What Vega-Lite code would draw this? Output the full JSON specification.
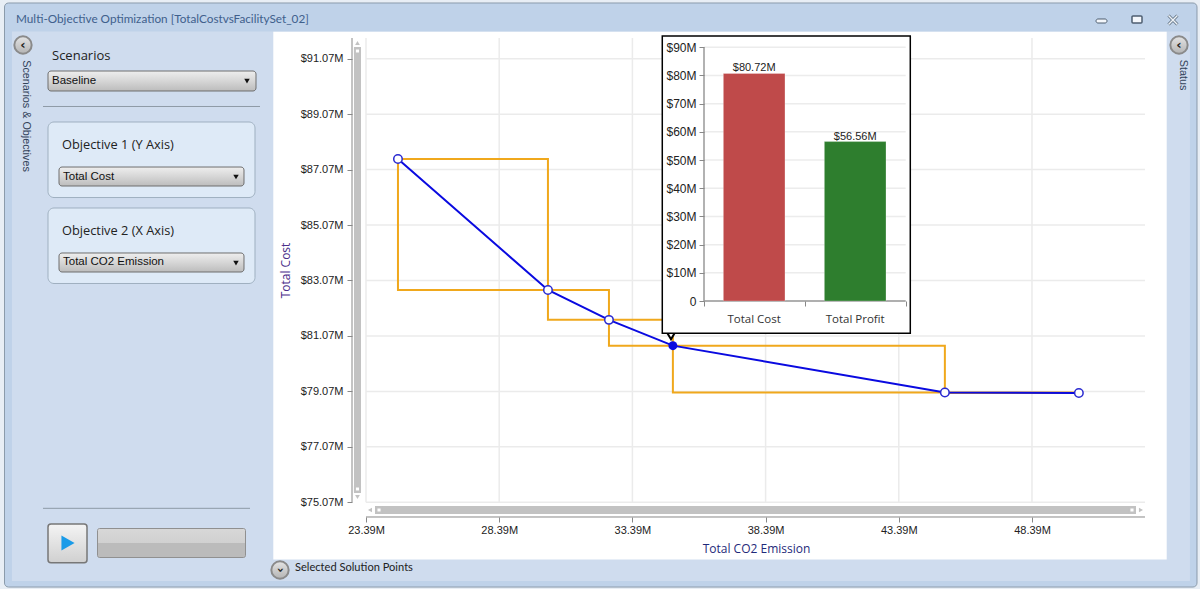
{
  "$schema": "https://vega.github.io/schema/vega-lite/v6.json",
  "width": 1200,
  "height": 589,
  "autosize": "none",
  "padding": 0,
  "background": "#e8eef5",
  "config": {
    "view": {"stroke": null},
    "axis": {"grid": false, "domain": false, "tickColor": "#888888", "labelColor": "#222222", "labelFont": "Liberation Sans", "titleFont": "Open Sans", "titleFontWeight": "normal"}
  },
  "datasets": {
    "one": [{}],
    "points": [
      {"co2": 24.59, "cost": 87.45},
      {"co2": 30.22, "cost": 82.73},
      {"co2": 32.51, "cost": 81.65},
      {"co2": 45.12, "cost": 79.03},
      {"co2": 50.15, "cost": 79.01}
    ],
    "line": [
      {"co2": 24.59, "cost": 87.45},
      {"co2": 30.22, "cost": 82.73},
      {"co2": 32.51, "cost": 81.65},
      {"co2": 34.91, "cost": 80.72},
      {"co2": 45.12, "cost": 79.03},
      {"co2": 50.15, "cost": 79.01}
    ],
    "selected": [{"co2": 34.91, "cost": 80.72}],
    "steps": [
      {"co2A": 24.59, "co2B": 30.22, "costA": 87.45, "costB": 82.73},
      {"co2A": 30.22, "co2B": 32.51, "costA": 82.73, "costB": 81.65},
      {"co2A": 32.51, "co2B": 34.91, "costA": 81.65, "costB": 80.72},
      {"co2A": 34.91, "co2B": 45.12, "costA": 80.72, "costB": 79.03},
      {"co2A": 45.12, "co2B": 50.15, "costA": 79.03, "costB": 79.01}
    ],
    "co2Ticks": [{"v": 23.39}, {"v": 28.39}, {"v": 33.39}, {"v": 38.39}, {"v": 43.39}, {"v": 48.39}],
    "costTicks": [{"v": 75.07}, {"v": 77.07}, {"v": 79.07}, {"v": 81.07}, {"v": 83.07}, {"v": 85.07}, {"v": 87.07}, {"v": 89.07}, {"v": 91.07}],
    "insetTicks": [{"v": 0}, {"v": 10}, {"v": 20}, {"v": 30}, {"v": 40}, {"v": 50}, {"v": 60}, {"v": 70}, {"v": 80}, {"v": 90}],
    "bars": [
      {"metric": "Total Cost", "value": 80.72, "label": "$80.72M"},
      {"metric": "Total Profit", "value": 56.56, "label": "$56.56M"}
    ]
  },
  "data": {"name": "one"},
  "resolve": {"scale": {"x": "independent", "y": "independent", "color": "independent"}},
  "layer": [
    {
      "layer": [
        {"mark": {"type": "rect", "fill": "#bfd2e9", "stroke": "#8b9bab", "cornerRadius": 4},
          "encoding": {
            "x": {"datum": 9.82, "scale": {"domain": [9.651, 54.697], "nice": false, "zero": false}},
            "x2": {"datum": 54.584},
            "y": {"datum": 93.079, "scale": {"domain": [71.943, 93.187], "nice": false, "zero": false}},
            "y2": {"datum": 72.014}
          }},
        {"mark": {"type": "rect", "fill": "#cfdcee"}, "encoding": {"x": {"datum": 10.101}, "x2": {"datum": 54.321}, "y": {"datum": 92.051}, "y2": {"datum": 72.231}}},
        {"mark": {"type": "rect", "fill": "#ffffff"}, "encoding": {"x": {"datum": 19.91}, "x2": {"datum": 53.447}, "y": {"datum": 92.044}, "y2": {"datum": 73.007}}},
        {"mark": {"type": "text", "text": "Multi-Objective Optimization [TotalCostvsFacilitySet_02]", "align": "left", "font": "Lato", "fontSize": 11.75, "color": "#40608c"}, "encoding": {"x": {"datum": 10.252}, "y": {"datum": 92.484}}},
        {"mark": {"type": "rect", "fill": "#f4f7fb", "stroke": "#4e5e70", "cornerRadius": 2}, "encoding": {"x": {"datum": 50.793}, "x2": {"datum": 51.206}, "y": {"datum": 92.502}, "y2": {"datum": 92.357}}},
        {"mark": {"type": "rect", "fill": "#f4f7fb", "stroke": "#4e5e70", "strokeWidth": 1.5, "cornerRadius": 1}, "encoding": {"x": {"datum": 52.144}, "x2": {"datum": 52.52}, "y": {"datum": 92.61}, "y2": {"datum": 92.357}}},
        {"mark": {"type": "point", "shape": "M-1,-1L1,1M-1,1L1,-1", "size": 80, "filled": false, "stroke": "#5a6b7c", "strokeWidth": 3, "opacity": 1}, "encoding": {"x": {"datum": 53.682}, "y": {"datum": 92.466}}},
        {"mark": {"type": "point", "shape": "M-1,-1L1,1M-1,1L1,-1", "size": 80, "filled": false, "stroke": "#eef3f8", "strokeWidth": 1.5, "opacity": 1}, "encoding": {"x": {"datum": 53.682}, "y": {"datum": 92.466}}},

        {"mark": {"type": "point", "shape": "circle", "size": 300, "filled": true, "fill": {"x1": 0, "y1": 0, "x2": 0, "y2": 1, "gradient": "linear", "stops": [{"offset": 0, "color": "#e4e4e4"}, {"offset": 1, "color": "#b4b4b4"}]}, "stroke": "#8a8a8a", "opacity": 1}, "encoding": {"x": {"datum": 10.514}, "y": {"datum": 91.564}}},
        {"mark": {"type": "text", "text": "‹", "font": "DejaVu Sans", "fontWeight": "bold", "fontSize": 13, "color": "#222222"}, "encoding": {"x": {"datum": 10.514}, "y": {"datum": 91.564}}},
        {"mark": {"type": "point", "shape": "circle", "size": 300, "filled": true, "fill": {"x1": 0, "y1": 0, "x2": 0, "y2": 1, "gradient": "linear", "stops": [{"offset": 0, "color": "#e4e4e4"}, {"offset": 1, "color": "#b4b4b4"}]}, "stroke": "#8a8a8a", "opacity": 1}, "encoding": {"x": {"datum": 53.909}, "y": {"datum": 91.564}}},
        {"mark": {"type": "text", "text": "‹", "font": "DejaVu Sans", "fontWeight": "bold", "fontSize": 13, "color": "#222222"}, "encoding": {"x": {"datum": 53.909}, "y": {"datum": 91.564}}},
        {"mark": {"type": "point", "shape": "circle", "size": 300, "filled": true, "fill": {"x1": 0, "y1": 0, "x2": 0, "y2": 1, "gradient": "linear", "stops": [{"offset": 0, "color": "#e4e4e4"}, {"offset": 1, "color": "#b4b4b4"}]}, "stroke": "#8a8a8a", "opacity": 1}, "encoding": {"x": {"datum": 20.162}, "y": {"datum": 72.628}}},
        {"mark": {"type": "text", "text": "‹", "angle": 270, "font": "DejaVu Sans", "fontWeight": "bold", "fontSize": 13, "color": "#222222"}, "encoding": {"x": {"datum": 20.162}, "y": {"datum": 72.628}}},

        {"mark": {"type": "text", "text": "Scenarios & Objectives", "angle": 90, "font": "Liberation Sans", "fontSize": 10.8, "color": "#33435a"}, "encoding": {"x": {"datum": 10.627}, "y": {"datum": 89.003}}},
        {"mark": {"type": "text", "text": "Status", "angle": 90, "font": "Liberation Sans", "fontSize": 10.8, "color": "#33435a"}, "encoding": {"x": {"datum": 54.059}, "y": {"datum": 90.482}}},
        {"mark": {"type": "text", "text": "Scenarios", "align": "left", "font": "Open Sans", "fontSize": 13, "color": "#222222"}, "encoding": {"x": {"datum": 11.603}, "y": {"datum": 91.167}}},
        {"mark": {"type": "text", "text": "Selected Solution Points", "align": "left", "font": "Lato", "fontSize": 11.1, "color": "#222222"}, "encoding": {"x": {"datum": 20.725}, "y": {"datum": 72.7}}},

        {"mark": {"type": "rect", "cornerRadius": 3, "stroke": "#6e6e6e", "fill": {"x1": 0, "y1": 0, "x2": 0, "y2": 1, "gradient": "linear", "stops": [{"offset": 0, "color": "#eeeeee"}, {"offset": 0.5, "color": "#d6d6d6"}, {"offset": 1, "color": "#bcbcbc"}]}}, "encoding": {"x": {"datum": 11.453}, "x2": {"datum": 19.261}, "y": {"datum": 90.626}, "y2": {"datum": 89.905}}},
        {"mark": {"type": "text", "text": "Baseline", "align": "left", "font": "Liberation Sans", "fontSize": 11.5, "color": "#111111"}, "encoding": {"x": {"datum": 11.603}, "y": {"datum": 90.283}}},
        {"mark": {"type": "point", "shape": "triangle-down", "size": 30, "filled": true, "fill": "#111111", "opacity": 1}, "encoding": {"x": {"datum": 18.923}, "y": {"datum": 90.265}}},
        {"mark": {"type": "rule", "color": "#8e9aa6", "strokeWidth": 1}, "encoding": {"x": {"datum": 11.265}, "x2": {"datum": 19.411}, "y": {"datum": 89.346}}},

        {"mark": {"type": "rect", "fill": "#deeaf7", "stroke": "#9fb0c0", "cornerRadius": 6}, "encoding": {"x": {"datum": 11.453}, "x2": {"datum": 19.223}, "y": {"datum": 88.787}, "y2": {"datum": 86.063}}},
        {"mark": {"type": "text", "text": "Objective 1 (Y Axis)", "align": "left", "font": "Open Sans", "fontSize": 12.8, "color": "#222222"}, "encoding": {"x": {"datum": 11.978}, "y": {"datum": 87.957}}},
        {"mark": {"type": "rect", "cornerRadius": 3, "stroke": "#6e6e6e", "fill": {"x1": 0, "y1": 0, "x2": 0, "y2": 1, "gradient": "linear", "stops": [{"offset": 0, "color": "#eeeeee"}, {"offset": 0.5, "color": "#d6d6d6"}, {"offset": 1, "color": "#bcbcbc"}]}}, "encoding": {"x": {"datum": 11.866}, "x2": {"datum": 18.81}, "y": {"datum": 87.163}, "y2": {"datum": 86.478}}},
        {"mark": {"type": "text", "text": "Total Cost", "align": "left", "font": "Liberation Sans", "fontSize": 11.5, "color": "#111111"}, "encoding": {"x": {"datum": 12.016}, "y": {"datum": 86.821}}},
        {"mark": {"type": "point", "shape": "triangle-down", "size": 30, "filled": true, "fill": "#111111", "opacity": 1}, "encoding": {"x": {"datum": 18.51}, "y": {"datum": 86.803}}},

        {"mark": {"type": "rect", "fill": "#deeaf7", "stroke": "#9fb0c0", "cornerRadius": 6}, "encoding": {"x": {"datum": 11.453}, "x2": {"datum": 19.223}, "y": {"datum": 85.685}, "y2": {"datum": 82.962}}},
        {"mark": {"type": "text", "text": "Objective 2 (X Axis)", "align": "left", "font": "Open Sans", "fontSize": 12.8, "color": "#222222"}, "encoding": {"x": {"datum": 11.978}, "y": {"datum": 84.873}}},
        {"mark": {"type": "rect", "cornerRadius": 3, "stroke": "#6e6e6e", "fill": {"x1": 0, "y1": 0, "x2": 0, "y2": 1, "gradient": "linear", "stops": [{"offset": 0, "color": "#eeeeee"}, {"offset": 0.5, "color": "#d6d6d6"}, {"offset": 1, "color": "#bcbcbc"}]}}, "encoding": {"x": {"datum": 11.866}, "x2": {"datum": 18.81}, "y": {"datum": 84.062}, "y2": {"datum": 83.376}}},
        {"mark": {"type": "text", "text": "Total CO2 Emission", "align": "left", "font": "Liberation Sans", "fontSize": 11.5, "color": "#111111"}, "encoding": {"x": {"datum": 12.016}, "y": {"datum": 83.737}}},
        {"mark": {"type": "point", "shape": "triangle-down", "size": 30, "filled": true, "fill": "#111111", "opacity": 1}, "encoding": {"x": {"datum": 18.51}, "y": {"datum": 83.701}}},

        {"mark": {"type": "rule", "color": "#8e9aa6", "strokeWidth": 1}, "encoding": {"x": {"datum": 11.265}, "x2": {"datum": 19.036}, "y": {"datum": 74.853}}},
        {"mark": {"type": "rect", "cornerRadius": 3, "stroke": "#777777", "strokeWidth": 1.5, "fill": {"x1": 0, "y1": 0, "x2": 0, "y2": 1, "gradient": "linear", "stops": [{"offset": 0, "color": "#f4f4f4"}, {"offset": 1, "color": "#d0d0d0"}]}}, "encoding": {"x": {"datum": 11.453}, "x2": {"datum": 12.917}, "y": {"datum": 74.287}, "y2": {"datum": 72.891}}},
        {"mark": {"type": "point", "shape": "triangle-right", "size": 230, "filled": true, "fill": "#1a9be8", "opacity": 1}, "encoding": {"x": {"datum": 12.204}, "y": {"datum": 73.602}}},
        {"mark": {"type": "rect", "cornerRadius": 2, "stroke": "#909090", "fill": {"x1": 0, "y1": 0, "x2": 0, "y2": 1, "gradient": "linear", "stops": [{"offset": 0, "color": "#d8d8d8"}, {"offset": 0.5, "color": "#d0d0d0"}, {"offset": 0.5, "color": "#bbbbbb"}, {"offset": 1, "color": "#bbbbbb"}]}}, "encoding": {"x": {"datum": 13.311}, "x2": {"datum": 18.867}, "y": {"datum": 74.125}, "y2": {"datum": 73.079}}},

        {"data": {"name": "co2Ticks"}, "mark": {"type": "rule", "color": "#ebebeb", "strokeWidth": 1.5}, "encoding": {"x": {"field": "v", "type": "quantitative"}, "y": {"datum": 91.816}, "y2": {"datum": 75.07}}},
        {"data": {"name": "costTicks"}, "mark": {"type": "rule", "color": "#ebebeb", "strokeWidth": 1.5}, "encoding": {"x": {"datum": 23.39}, "x2": {"datum": 52.632}, "y": {"field": "v", "type": "quantitative"}}},

        {"mark": {"type": "rule", "color": "#888888", "strokeWidth": 1}, "encoding": {"x": {"datum": 22.865}, "y": {"datum": 91.816}, "y2": {"datum": 75.07}}},
        {"mark": {"type": "rect", "fill": "#c2c2c2"}, "encoding": {"x": {"datum": 22.939}, "x2": {"datum": 23.202}, "y": {"datum": 91.492}, "y2": {"datum": 75.405}}},
        {"mark": {"type": "point", "shape": "square", "size": 26, "filled": true, "fill": "#ffffff", "stroke": "#c2c2c2", "opacity": 1}, "encoding": {"x": {"datum": 23.07}, "y": {"datum": 91.348}}},
        {"mark": {"type": "point", "shape": "square", "size": 26, "filled": true, "fill": "#ffffff", "stroke": "#c2c2c2", "opacity": 1}, "encoding": {"x": {"datum": 23.07}, "y": {"datum": 75.55}}},
        {"mark": {"type": "point", "shape": "triangle-up", "size": 22, "filled": true, "fill": "#c2c2c2", "opacity": 1}, "encoding": {"x": {"datum": 23.07}, "y": {"datum": 91.636}}},
        {"mark": {"type": "point", "shape": "triangle-down", "size": 22, "filled": true, "fill": "#c2c2c2", "opacity": 1}, "encoding": {"x": {"datum": 23.07}, "y": {"datum": 75.261}}},
        {"mark": {"type": "rule", "color": "#888888", "strokeWidth": 1}, "encoding": {"x": {"datum": 23.39}, "x2": {"datum": 52.632}, "y": {"datum": 74.54}}},
        {"mark": {"type": "rect", "fill": "#c2c2c2"}, "encoding": {"x": {"datum": 23.728}, "x2": {"datum": 52.295}, "y": {"datum": 74.936}, "y2": {"datum": 74.648}}},
        {"mark": {"type": "point", "shape": "square", "size": 26, "filled": true, "fill": "#ffffff", "stroke": "#c2c2c2", "opacity": 1}, "encoding": {"x": {"datum": 23.878}, "y": {"datum": 74.792}}},
        {"mark": {"type": "point", "shape": "square", "size": 26, "filled": true, "fill": "#ffffff", "stroke": "#c2c2c2", "opacity": 1}, "encoding": {"x": {"datum": 52.144}, "y": {"datum": 74.792}}},
        {"mark": {"type": "point", "shape": "triangle-left", "size": 22, "filled": true, "fill": "#c2c2c2", "opacity": 1}, "encoding": {"x": {"datum": 23.54}, "y": {"datum": 74.792}}},
        {"mark": {"type": "point", "shape": "triangle-right", "size": 22, "filled": true, "fill": "#c2c2c2", "opacity": 1}, "encoding": {"x": {"datum": 52.482}, "y": {"datum": 74.792}}},

        {"data": {"name": "steps"}, "mark": {"type": "rect", "fillOpacity": 0, "stroke": "#f0a81c", "strokeWidth": 2}, "encoding": {"x": {"field": "co2A", "type": "quantitative"}, "x2": {"field": "co2B"}, "y": {"field": "costA", "type": "quantitative"}, "y2": {"field": "costB"}}},
        {"data": {"name": "line"}, "mark": {"type": "line", "color": "#0a0ae0", "strokeWidth": 2},
          "encoding": {
            "x": {"field": "co2", "type": "quantitative", "axis": {"values": [23.39, 28.39, 33.39, 38.39, 43.39, 48.39], "format": ".2f", "labelExpr": "format(datum.value, '.2f') + 'M'", "orient": "bottom", "offset": -72, "zindex": 1, "tickSize": 5, "labelFontSize": 11, "labelPadding": 2, "title": "Total CO2 Emission", "titleX": 756, "titleY": 26, "titleColor": "#1f2a7a", "titleFontSize": 12}},
            "y": {"field": "cost", "type": "quantitative", "axis": {"values": [75.07, 77.07, 79.07, 81.07, 83.07, 85.07, 87.07, 89.07, 91.07], "labelExpr": "'$' + format(datum.value, '.2f') + 'M'", "orient": "left", "offset": -352, "zindex": 1, "tickSize": 5, "labelFontSize": 11, "labelPadding": 4, "title": "Total Cost", "titleX": -60, "titleY": 270, "titleAngle": -90, "titleColor": "#4b2e8a", "titleFontSize": 12}}
          }},
        {"data": {"name": "points"}, "mark": {"type": "point", "shape": "circle", "size": 72, "filled": true, "fill": "#ffffff", "stroke": "#2a2ad0", "strokeWidth": 1.5, "opacity": 1}, "encoding": {"x": {"field": "co2", "type": "quantitative"}, "y": {"field": "cost", "type": "quantitative"}}},
        {"data": {"name": "selected"}, "mark": {"type": "point", "shape": "circle", "size": 80, "filled": true, "fill": "#0a0ae0", "opacity": 1}, "encoding": {"x": {"field": "co2", "type": "quantitative"}, "y": {"field": "cost", "type": "quantitative"}}},

        {"mark": {"type": "point", "shape": "triangle-down", "size": 60, "filled": true, "fill": "#ffffff", "stroke": "#000000", "opacity": 1}, "encoding": {"x": {"datum": 34.839}, "y": {"datum": 81.068}}},
        {"mark": {"type": "rect", "fill": "#ffffff", "stroke": "#000000", "strokeWidth": 1.5}, "encoding": {"x": {"datum": 34.512}, "x2": {"datum": 43.822}, "y": {"datum": 91.888}, "y2": {"datum": 81.165}}}
      ]
    },
    {
      "layer": [
        {"data": {"name": "insetTicks"}, "mark": {"type": "rule", "color": "#ececec", "strokeWidth": 1.5},
          "encoding": {
            "x": {"datum": 36.078, "scale": {"domain": [9.651, 54.697], "nice": false, "zero": false}, "axis": {"values": [36.078, 39.87, 43.649], "orient": "bottom", "offset": -288, "zindex": 1, "tickSize": 5, "labels": false, "title": null}},
            "x2": {"datum": 43.649},
            "y": {"field": "v", "type": "quantitative", "scale": {"domain": [-102.16, 106.78], "nice": false, "zero": false}, "axis": {"values": [0, 10, 20, 30, 40, 50, 60, 70, 80, 90], "labelExpr": "datum.value === 0 ? '0' : '$' + datum.value + 'M'", "orient": "left", "offset": -704, "zindex": 1, "tickSize": 5, "labelFontSize": 12, "labelPadding": 3, "title": null}}
          }},
        {"mark": {"type": "rule", "color": "#999999", "strokeWidth": 1.5}, "encoding": {"x": {"datum": 36.078}, "y": {"datum": 0}, "y2": {"datum": 90}}},
        {"mark": {"type": "rule", "color": "#999999", "strokeWidth": 1.5}, "encoding": {"x": {"datum": 36.078}, "x2": {"datum": 43.649}, "y": {"datum": 0}}}
      ]
    },
    {
      "data": {"name": "bars"},
      "encoding": {
        "x": {
          "field": "metric",
          "type": "nominal",
          "sort": null,
          "scale": {
            "domain": ["p1", "p2", "p3", "p4", "p5", "p6", "p7", "Total Cost", "Total Profit", "p8", "p9"],
            "paddingInner": 0.39, "paddingOuter": 0.635, "align": 0.127
          },
          "axis": {"values": ["Total Cost", "Total Profit"], "orient": "bottom", "offset": -288, "zindex": 1, "ticks": false, "labelAngle": 0, "labelPadding": 12, "labelFont": "Open Sans", "labelFontSize": 11.5, "labelColor": "#333333", "title": null}
        }
      },
      "layer": [
        {"mark": {"type": "bar", "strokeWidth": 1, "stroke": "#ffffff", "strokeOpacity": 0.25},
          "encoding": {
            "y": {"field": "value", "type": "quantitative", "scale": {"domain": [-102.16, 106.78], "nice": false, "zero": false}, "axis": null},
            "color": {"field": "metric", "type": "nominal", "legend": null, "scale": {"domain": ["Total Cost", "Total Profit"], "range": ["#bf4a4a", "#2e7e2e"]}}
          }},
        {"mark": {"type": "text", "baseline": "bottom", "dy": 0, "font": "Liberation Sans", "fontSize": 11, "color": "#222222"},
          "encoding": {
            "y": {"field": "value", "type": "quantitative"},
            "text": {"field": "label"}
          }}
      ]
    }
  ]
}
